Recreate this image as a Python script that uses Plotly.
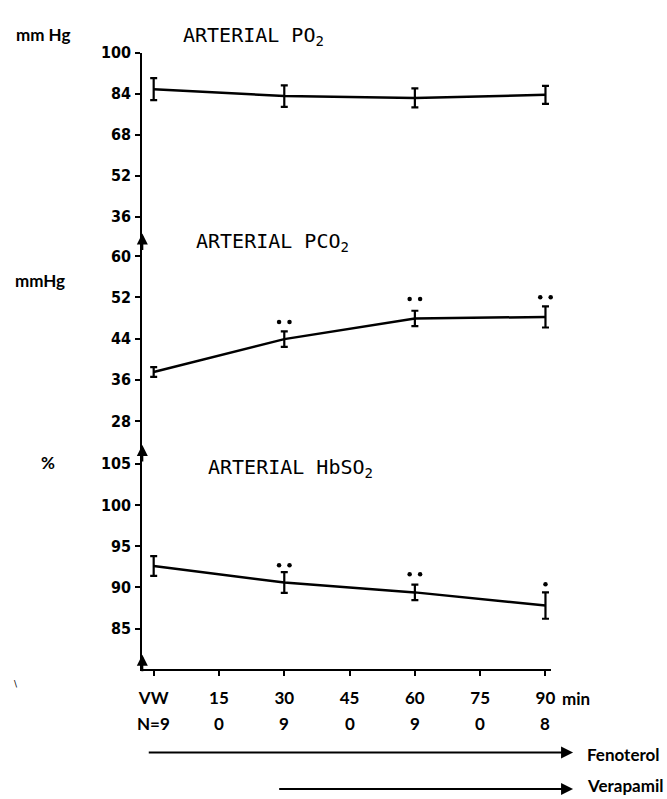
import plotly.graph_objects as go

W, H = 667, 799

# ---------------- data ----------------
times = [0, 30, 60, 90]

po2_mean = [85.7, 83.0, 82.3, 83.5]
po2_err = [4.3, 4.2, 3.7, 3.5]

pco2_mean = [37.5, 43.9, 47.9, 48.2]
pco2_err = [0.95, 1.5, 1.5, 2.05]

hbso2_mean = [92.6, 90.6, 89.4, 87.8]
hbso2_err = [1.2, 1.25, 0.95, 1.6]

# significance markers (height of dots, number of dots)
pco2_sig_y = [None, 47.2, 51.7, 52.0]
pco2_sig_n = [0, 2, 2, 2]
hbso2_sig_y = [None, 92.7, 91.6, 90.4]
hbso2_sig_n = [0, 2, 2, 1]

x_tickvals = [0, 15, 30, 45, 60, 75, 90]
x_ticktext = ["VW", "15", "30", "45", "60", "75", "90"]
n_labels = ["N=9", "0", "9", "0", "9", "0", "8"]

po2_ticks = [36, 52, 68, 84, 100]
pco2_ticks = [28, 36, 44, 52, 60]
hbso2_ticks = [85, 90, 95, 100, 105]

# ---------------- helpers ----------------
def px(p):
    return p / W

def py(p):
    return 1 - p / H

TICKFONT = dict(family="Liberation Sans Narrow, DejaVu Sans Condensed, Liberation Sans, sans-serif",
                size=16, color="black", weight="bold")
TITLEFONT = dict(family="DejaVu Sans Mono, monospace", size=20, color="black")
LABELFONT = dict(family="Lato, Noto Sans, sans-serif", size=17, color="black", weight="bold")

fig = go.Figure()

def add_panel(mean, err, yref):
    fig.add_trace(go.Scatter(
        x=times, y=mean, mode="lines", yaxis=yref, cliponaxis=False,
        line=dict(color="black", width=2.5),
        error_y=dict(type="data", array=err, visible=True, width=3.5, thickness=2.2, color="black"),
        showlegend=False, hoverinfo="skip",
    ))

def add_sig(sig_y, sig_n, yref):
    xs, ys = [], []
    for t, yv, n in zip(times, sig_y, sig_n):
        if n == 2:
            xs += [t - 1.2, t + 1.2]
            ys += [yv, yv]
        elif n == 1:
            xs += [t]
            ys += [yv]
    fig.add_trace(go.Scatter(
        x=xs, y=ys, mode="markers", yaxis=yref, cliponaxis=False,
        marker=dict(color="black", size=4.5), showlegend=False, hoverinfo="skip",
    ))

add_panel(po2_mean, po2_err, "y")
add_panel(pco2_mean, pco2_err, "y2")
add_sig(pco2_sig_y, pco2_sig_n, "y2")
add_panel(hbso2_mean, hbso2_err, "y3")
add_sig(hbso2_sig_y, hbso2_sig_n, "y3")

# axis geometry (pixels)
AX_L, AX_R = 140, 554
X0_PX, PX_PER_MIN = 151.5, 4.406
xr = [(AX_L - X0_PX) / PX_PER_MIN, (AX_R - X0_PX) / PX_PER_MIN]

yax_common = dict(
    showline=True, linewidth=2, linecolor="black", ticks="outside", ticklen=5,
    tickwidth=1.5, tickcolor="black", showgrid=False, zeroline=False,
    tickfont=TICKFONT, anchor="x", ticklabelstandoff=1,
)

fig.update_layout(
    width=W, height=H, autosize=False,
    margin=dict(l=0, r=0, t=0, b=0),
    paper_bgcolor="white", plot_bgcolor="white",
    xaxis=dict(
        domain=[px(AX_L), px(AX_R)], range=xr, anchor="y3",
        showline=True, linewidth=2, linecolor="black", ticks="outside", ticklen=5,
        tickwidth=1.5, tickcolor="black", showgrid=False, zeroline=False,
        tickvals=x_tickvals, ticktext=x_ticktext, tickfont=LABELFONT,
        ticklabelstandoff=7,
    ),
    yaxis=dict(domain=[py(228), py(44)], range=[29.07, 100], tickvals=po2_ticks, **yax_common),
    yaxis2=dict(domain=[py(443), py(228)], range=[22.95, 64.22], tickvals=pco2_ticks, **yax_common),
    yaxis3=dict(domain=[py(668), py(443)], range=[80.04, 107.05], tickvals=hbso2_ticks, **yax_common),
)

ann = []
# arrowheads on the y axis
for tip in [227, 441, 653]:
    ann.append(dict(x=px(AX_L), y=py(tip), xref="paper", yref="paper", ax=0, ay=18,
                    axref="pixel", ayref="pixel", showarrow=True, arrowhead=2,
                    arrowsize=1.1, arrowwidth=2, arrowcolor="black", text=""))

# panel titles
ann.append(dict(x=px(179), y=py(27), xref="paper", yref="paper", xanchor="left", yanchor="middle",
                text="ARTERIAL PO<sub>2</sub>", showarrow=False, font=TITLEFONT))
ann.append(dict(x=px(192), y=py(236), xref="paper", yref="paper", xanchor="left", yanchor="middle",
                text="ARTERIAL PCO<sub>2</sub>", showarrow=False, font=TITLEFONT))
ann.append(dict(x=px(204), y=py(464), xref="paper", yref="paper", xanchor="left", yanchor="middle",
                text="ARTERIAL HbSO<sub>2</sub>", showarrow=False, font=TITLEFONT))

# unit labels
ann.append(dict(x=px(10), y=py(26), xref="paper", yref="paper", xanchor="left", yanchor="middle",
                text="mm Hg", showarrow=False, font=LABELFONT))
ann.append(dict(x=px(9), y=py(275), xref="paper", yref="paper", xanchor="left", yanchor="middle",
                text="mmHg", showarrow=False, font=LABELFONT))
ann.append(dict(x=px(35), y=py(459), xref="paper", yref="paper", xanchor="left", yanchor="middle",
                text="%", showarrow=False, font=LABELFONT))

# "min" label
ann.append(dict(x=px(563), y=py(697), xref="paper", yref="paper", xanchor="left", yanchor="middle",
                text="min", showarrow=False, font=LABELFONT))

# N row
for t, lab in zip(x_tickvals, n_labels):
    ann.append(dict(x=t, y=py(723), xref="x", yref="paper", xanchor="center", yanchor="middle",
                    text=lab, showarrow=False, font=LABELFONT))

# small scan mark at the left
ann.append(dict(x=px(12), y=py(683), xref="paper", yref="paper", xanchor="center", yanchor="middle",
                text="\\", showarrow=False, font=dict(family="DejaVu Sans", size=9, color="black")))

# treatment arrows
arrow_end = (576 - X0_PX) / PX_PER_MIN
fen_start = (145 - X0_PX) / PX_PER_MIN
ver_start = (277 - X0_PX) / PX_PER_MIN
for start, yy, ty, name in [(fen_start, 752, 754, "Fenoterol"), (ver_start, 789, 785, "Verapamil")]:
    ann.append(dict(x=arrow_end, y=py(yy), xref="x", yref="paper", ax=start, ay=0,
                    axref="x", ayref="pixel", showarrow=True, arrowhead=2, arrowsize=1.2,
                    arrowwidth=2, arrowcolor="black", text=""))
    ann.append(dict(x=px(588), y=py(ty), xref="paper", yref="paper", xanchor="left", yanchor="middle",
                    text=name, showarrow=False, font=LABELFONT))

fig.update_layout(annotations=ann)

fig.write_html("out.html")
